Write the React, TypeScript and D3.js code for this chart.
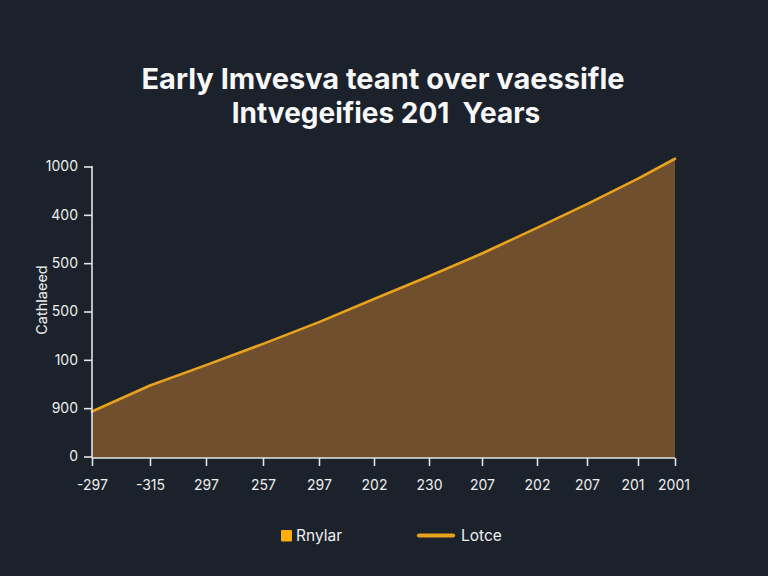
import { useEffect, useRef } from "react"
import * as d3 from "d3"

const xValues = [0, 58, 114, 171, 227, 282, 337, 390, 445, 495, 546, 583]
const xLabels = ["-297", "-315", "297", "257", "297", "202", "230", "207", "202", "207", "201", "2001"]
const seriesValues = [93, 147, 189, 233, 278, 326, 373, 420, 473, 522, 575, 616]
const yTicks = [0, 100, 200, 300, 400, 500, 600]
const yLabels = ["0", "900", "100", "500", "500", "400", "1000"]
const titleLines = ["Early Imvesva teant over vaessifle", "Intvegeifies 201  Years"]

const BG = "#1b222c"
const AXIS = "#e4e4e4"
const TEXT = "#eeeeee"
const AREA = "#6f4f2e"
const LINE = "#e8a21c"
const FONT = "Inter, sans-serif"

export default function App() {
  const svgRef = useRef<SVGSVGElement>(null)

  useEffect(() => {
    if (!svgRef.current) return
    const svg = d3.select(svgRef.current)
    svg.selectAll("*").remove()

    const x = d3.scaleLinear().domain([0, 583]).range([92, 675])
    const y = d3.scaleLinear().domain([0, 600]).range([456.5, 166.5])
    const baseY = 458
    const points = xValues.map((v, i) => ({ x: v, y: seriesValues[i] }))

    svg.append("rect").attr("width", 768).attr("height", 576).attr("fill", BG)

    // Titre
    svg
      .append("g")
      .selectAll("text")
      .data(titleLines)
      .enter()
      .append("text")
      .attr("x", (_d, i) => (i === 0 ? 383 : 386))
      .attr("y", (_d, i) => 89 + i * 34)
      .attr("text-anchor", "middle")
      .attr("fill", "#f7f7f7")
      .attr("font-family", FONT)
      .attr("font-size", (_d, i) => (i === 0 ? 29 : 28))
      .attr("font-weight", 700)
      .style("white-space", "pre")
      .text((d) => d)

    // Zone remplie
    const area = d3
      .area<{ x: number; y: number }>()
      .x((d) => x(d.x))
      .y0(baseY)
      .y1((d) => y(d.y))
    svg.append("path").datum(points).attr("fill", AREA).attr("d", area)

    // Ligne
    const line = d3
      .line<{ x: number; y: number }>()
      .x((d) => x(d.x))
      .y((d) => y(d.y))
    svg
      .append("path")
      .datum(points)
      .attr("fill", "none")
      .attr("stroke", LINE)
      .attr("stroke-width", 2.6)
      .attr("stroke-linecap", "round")
      .attr("stroke-linejoin", "round")
      .attr("d", line)

    // Axe Y
    const yAxis = d3
      .axisLeft(y)
      .tickValues(yTicks)
      .tickSize(8)
      .tickPadding(6)
      .tickFormat((_d, i) => yLabels[i])
    const gy = svg.append("g").attr("transform", "translate(92,0)").call(yAxis)
    gy.select(".domain").attr("stroke", AXIS).attr("stroke-width", 1.6).attr("d", "M0,166V458")
    gy.selectAll(".tick line").attr("stroke", AXIS).attr("stroke-width", 1.6)
    gy.selectAll("text")
      .attr("fill", TEXT)
      .attr("font-family", FONT)
      .attr("font-size", 14)

    // Axe X
    const xAxis = d3
      .axisBottom(x)
      .tickValues(xValues)
      .tickSize(8)
      .tickPadding(14)
      .tickFormat((_d, i) => xLabels[i])
    const gx = svg.append("g").attr("transform", `translate(0,${baseY})`).call(xAxis)
    gx.select(".domain").attr("stroke", AXIS).attr("stroke-width", 1.6).attr("d", "M92,0H675")
    gx.selectAll(".tick line").attr("stroke", AXIS).attr("stroke-width", 1.6)
    gx.selectAll("text")
      .attr("fill", TEXT)
      .attr("font-family", FONT)
      .attr("font-size", 14)
      // les deux derniers libellés sont décalés vers la gauche pour ne pas se toucher
      .attr("dx", (_d, i) => (i === 10 ? -5.5 : i === 11 ? -1.5 : 0))

    // Titre de l'axe Y
    svg
      .append("text")
      .attr("transform", "translate(47,300) rotate(-90)")
      .attr("text-anchor", "middle")
      .attr("fill", TEXT)
      .attr("font-family", FONT)
      .attr("font-size", 14.5)
      .text("Cathlaeed")

    // Légende
    svg.append("rect").attr("x", 281).attr("y", 530).attr("width", 11).attr("height", 11.5).attr("rx", 1).attr("fill", "#ffad0a")
    svg
      .append("text")
      .attr("x", 296)
      .attr("y", 541)
      .attr("fill", TEXT)
      .attr("font-family", FONT)
      .attr("font-size", 15.5)
      .text("Rnylar")
    svg
      .append("line")
      .attr("x1", 419)
      .attr("x2", 453)
      .attr("y1", 535.5)
      .attr("y2", 535.5)
      .attr("stroke", LINE)
      .attr("stroke-width", 4.2)
      .attr("stroke-linecap", "round")
    svg
      .append("text")
      .attr("x", 461)
      .attr("y", 541)
      .attr("fill", TEXT)
      .attr("font-family", FONT)
      .attr("font-size", 15.5)
      .text("Lotce")
  }, [])

  return (
    <svg
      ref={svgRef}
      width={768}
      height={576}
      style={{ position: "absolute", left: 0, top: 0, display: "block" }}
    />
  )
}
